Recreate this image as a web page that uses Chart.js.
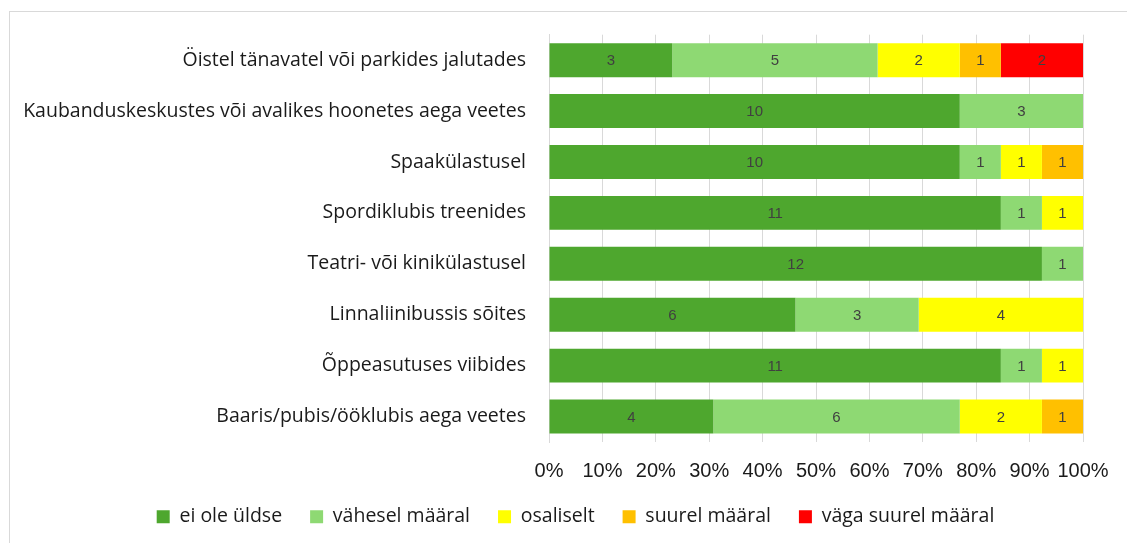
<!DOCTYPE html>
<html><head><meta charset="utf-8">
<script src="https://cdn.jsdelivr.net/npm/chart.js@4/dist/chart.umd.min.js"></script>
<style>
html,body{margin:0;padding:0;background:#fff;overflow:hidden;width:1127px;height:543px}
#frame{position:absolute;left:9px;top:11px;width:1130px;height:540px;border:1px solid #d9d9d9;box-sizing:border-box}
#wrap{position:absolute;left:0;top:0;width:1127px;height:543px}
</style></head><body>
<div id="frame"></div>
<div id="wrap"><canvas id="c" width="1127" height="543"></canvas></div>
<script>
const categories = [
  'Öistel tänavatel või parkides jalutades',
  'Kaubanduskeskustes või avalikes hoonetes aega veetes',
  'Spaakülastusel',
  'Spordiklubis treenides',
  'Teatri- või kinikülastusel',
  'Linnaliinibussis sõites',
  'Õppeasutuses viibides',
  'Baaris/pubis/ööklubis aega veetes'
];
const seriesNames = ['ei ole üldse', 'vähesel määral', 'osaliselt', 'suurel määral', 'väga suurel määral'];
const eiOleUldse       = [3, 10, 10, 11, 12, 6, 11, 4];
const vaheselMaaral    = [5, 3, 1, 1, 1, 3, 1, 6];
const osaliselt        = [2, 0, 1, 1, 0, 4, 1, 2];
const suurelMaaral     = [1, 0, 1, 0, 0, 0, 0, 1];
const vagaSuurelMaaral = [2, 0, 0, 0, 0, 0, 0, 0];
const respondents = 13;
const tickLabels = ['0%','10%','20%','30%','40%','50%','60%','70%','80%','90%','100%'];

const colors = ['#4ea72e', '#8ed973', '#ffff00', '#ffc000', '#ff0000'];
const seriesData = [eiOleUldse, vaheselMaaral, osaliselt, suurelMaaral, vagaSuurelMaaral];
const labelFont = '"Open Sans", "Liberation Sans", sans-serif';

const valueLabels = {
  id: 'valueLabels',
  afterDatasetsDraw(chart) {
    const ctx = chart.ctx;
    ctx.save();
    ctx.font = '15px "Liberation Sans", Arial, sans-serif';
    ctx.fillStyle = '#404040';
    ctx.textAlign = 'center';
    ctx.textBaseline = 'middle';
    chart.data.datasets.forEach((ds, di) => {
      const meta = chart.getDatasetMeta(di);
      meta.data.forEach((el, i) => {
        const v = ds.data[i];
        if (!v) return;
        const p = el.getCenterPoint();
        ctx.fillText(String(v), p.x, p.y + 1);
      });
    });
    ctx.restore();
  }
};

const legendShift = {
  id: 'legendShift',
  afterLayout(chart) {
    if (chart.legend) { chart.legend.left += 34; chart.legend.right += 34; }
  }
};

new Chart(document.getElementById('c'), {
  type: 'bar',
  data: {
    labels: categories,
    datasets: seriesNames.map((n, i) => ({
      label: n,
      data: seriesData[i],
      backgroundColor: colors[i],
      borderWidth: 0,
      barPercentage: 0.667,
      categoryPercentage: 1.0
    }))
  },
  options: {
    indexAxis: 'y',
    responsive: false,
    animation: false,
    layout: { padding: { left: 0, right: 44, top: 34.5, bottom: 6.5 } },
    plugins: {
      tooltip: { enabled: false },
      legend: {
        position: 'bottom',
        labels: {
          boxWidth: 13, boxHeight: 13,
          padding: 28,
          color: '#1a1a1a',
          font: { family: labelFont, size: 19.5 }
        }
      }
    },
    scales: {
      x: {
        stacked: true,
        min: 0, max: respondents,
        afterBuildTicks: (s) => { s.ticks = tickLabels.map((t, i) => ({ value: respondents * i / (tickLabels.length - 1) })); },
        afterFit: (s) => { s.height = 37; },
        grid: { color: '#d9d9d9', drawTicks: false },
        border: { display: false },
        ticks: {
          padding: 17,
          maxRotation: 0,
          minRotation: 0,
          autoSkip: false,
          color: '#1a1a1a',
          font: { family: '"Liberation Sans", Arial, sans-serif', size: 20 },
          callback: (v, i) => tickLabels[i]
        }
      },
      y: {
        stacked: true,
        afterFit: (s) => { s.width = 549; },
        grid: { display: false, drawTicks: false },
        border: { display: true, color: '#d9d9d9', width: 1 },
        ticks: {
          padding: 23,
          color: '#1a1a1a',
          font: { family: labelFont, size: 19.5 }
        }
      }
    }
  },
  plugins: [valueLabels, legendShift]
});
</script>
</body></html>
